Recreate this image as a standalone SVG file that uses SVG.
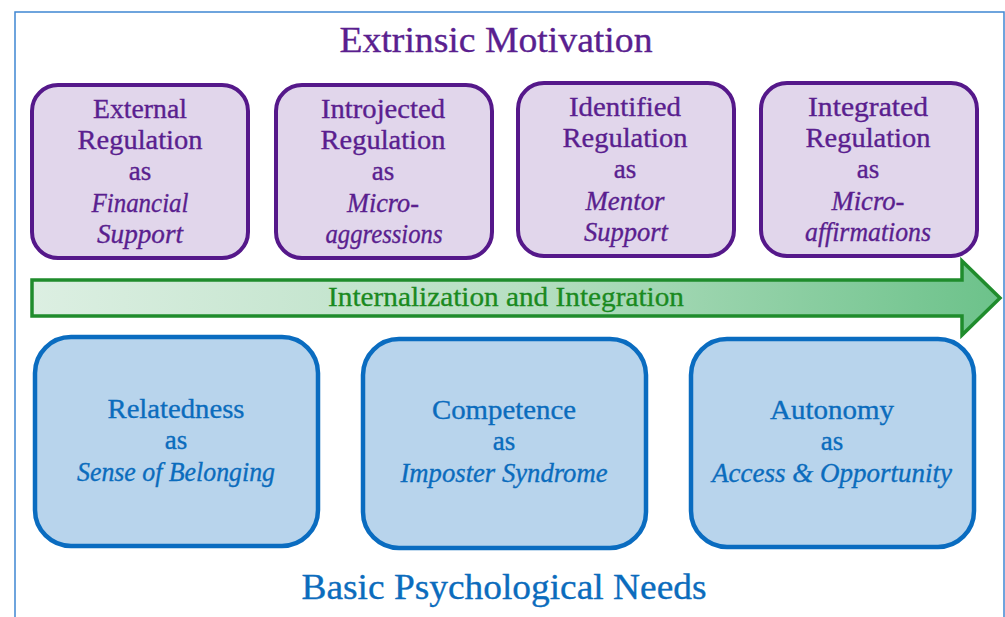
<svg xmlns="http://www.w3.org/2000/svg" width="1005" height="617" viewBox="0 0 1005 617">
<defs>
<linearGradient id="g" x1="0" y1="0" x2="1" y2="0">
<stop offset="0" stop-color="#dcefe2"/>
<stop offset="0.5" stop-color="#b7dfc3"/>
<stop offset="1" stop-color="#6cc28a"/>
</linearGradient>
</defs>
<style>
.pbox{fill:#e1d6eb;stroke:#55188a;stroke-width:4}
.bbox{fill:#b8d4ec;stroke:#0a6cc0;stroke-width:4.5}
.pt{font-family:'Liberation Serif',serif;font-size:27px;fill:#5a1f8f;stroke:#5a1f8f;stroke-width:0.35;text-anchor:middle}
.bt{font-family:'Liberation Serif',serif;font-size:27px;fill:#0b6cbd;stroke:#0b6cbd;stroke-width:0.35;text-anchor:middle}
.i{font-style:italic}
</style>
<rect x="0" y="0" width="1005" height="617" fill="#ffffff"/>
<rect x="15" y="12" width="989" height="620" fill="none" stroke="#3f86d2" stroke-width="1.5"/>
<text x="496" y="52" class="pt" style="font-size:36px" textLength="313" lengthAdjust="spacingAndGlyphs">Extrinsic Motivation</text>

<g id="external">
<rect x="32" y="85" width="216" height="173" rx="26" class="pbox"/>
<text class="pt" x="140" y="118" textLength="94" lengthAdjust="spacingAndGlyphs">External</text>
<text class="pt" x="140" y="149" textLength="125" lengthAdjust="spacingAndGlyphs">Regulation</text>
<text class="pt" x="140" y="180">as</text>
<text class="pt i" x="140" y="212" textLength="97" lengthAdjust="spacingAndGlyphs">Financial</text>
<text class="pt i" x="140" y="243" textLength="86" lengthAdjust="spacingAndGlyphs">Support</text>
</g>
<g id="introjected">
<rect x="276" y="85" width="216" height="173" rx="26" class="pbox"/>
<text class="pt" x="383" y="118" textLength="124" lengthAdjust="spacingAndGlyphs">Introjected</text>
<text class="pt" x="383" y="149" textLength="125" lengthAdjust="spacingAndGlyphs">Regulation</text>
<text class="pt" x="383" y="180">as</text>
<text class="pt i" x="383" y="212" textLength="72" lengthAdjust="spacingAndGlyphs">Micro-</text>
<text class="pt i" x="384" y="243" textLength="117" lengthAdjust="spacingAndGlyphs">aggressions</text>
</g>
<g id="identified">
<rect x="518" y="83" width="216" height="173" rx="26" class="pbox"/>
<text class="pt" x="625" y="116" textLength="112" lengthAdjust="spacingAndGlyphs">Identified</text>
<text class="pt" x="625" y="147" textLength="125" lengthAdjust="spacingAndGlyphs">Regulation</text>
<text class="pt" x="625" y="178">as</text>
<text class="pt i" x="625" y="210" textLength="79" lengthAdjust="spacingAndGlyphs">Mentor</text>
<text class="pt i" x="626" y="241" textLength="84" lengthAdjust="spacingAndGlyphs">Support</text>
</g>
<g id="integrated">
<rect x="761" y="83" width="216" height="173" rx="26" class="pbox"/>
<text class="pt" x="868" y="116" textLength="120" lengthAdjust="spacingAndGlyphs">Integrated</text>
<text class="pt" x="868" y="147" textLength="125" lengthAdjust="spacingAndGlyphs">Regulation</text>
<text class="pt" x="868" y="178">as</text>
<text class="pt i" x="868" y="210" textLength="73" lengthAdjust="spacingAndGlyphs">Micro-</text>
<text class="pt i" x="868" y="241" textLength="126" lengthAdjust="spacingAndGlyphs">affirmations</text>
</g>

<g id="connectors">
<path d="M32,280 H962 V261 L1000,298 L962,335 V316 H32 Z" fill="url(#g)" stroke="#1f8c2c" stroke-width="3.5" stroke-linejoin="miter"/>
<text x="506" y="306" style="font-family:'Liberation Serif',serif;font-size:27px;fill:#1a8a20;stroke:#1a8a20;stroke-width:0.3;text-anchor:middle" textLength="356" lengthAdjust="spacingAndGlyphs">Internalization and Integration</text>
</g>

<g id="relatedness">
<rect x="35" y="337" width="283" height="209" rx="36" class="bbox"/>
<text class="bt" x="176" y="418" textLength="137" lengthAdjust="spacingAndGlyphs">Relatedness</text>
<text class="bt" x="176" y="449">as</text>
<text class="bt i" x="176" y="481" textLength="198" lengthAdjust="spacingAndGlyphs">Sense of Belonging</text>
</g>
<g id="competence">
<rect x="363" y="339" width="283" height="209" rx="36" class="bbox"/>
<text class="bt" x="504" y="419" textLength="144" lengthAdjust="spacingAndGlyphs">Competence</text>
<text class="bt" x="504" y="450">as</text>
<text class="bt i" x="504" y="482" textLength="207" lengthAdjust="spacingAndGlyphs">Imposter Syndrome</text>
</g>
<g id="autonomy">
<rect x="691" y="339" width="283" height="208" rx="36" class="bbox"/>
<text class="bt" x="832" y="419" textLength="124" lengthAdjust="spacingAndGlyphs">Autonomy</text>
<text class="bt" x="832" y="450">as</text>
<text class="bt i" x="832" y="482" textLength="240" lengthAdjust="spacingAndGlyphs">Access &amp; Opportunity</text>
</g>

<text x="504" y="599" class="bt" style="font-size:36px" textLength="405" lengthAdjust="spacingAndGlyphs">Basic Psychological Needs</text>
</svg>
